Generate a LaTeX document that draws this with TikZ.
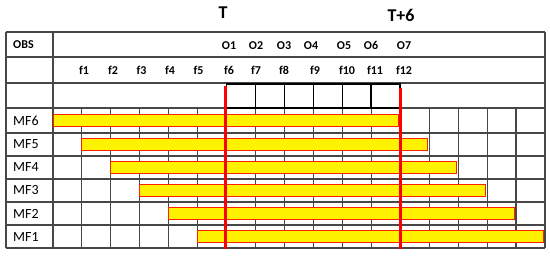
\documentclass[tikz,border=0pt]{standalone}
\usepackage{fontspec}
\setmainfont{Carlito}
\begin{document}
\begin{tikzpicture}[x=1pt,y=-1pt,
  gridline/.style={draw=black!72,line width=1.1pt},
  barbox/.style={fill=yellow,draw=red!75!orange,line width=1pt},
  redline/.style={draw=red,line width=2.8pt},
  blackcell/.style={draw=black,line width=1.7pt},
  hdr/.style={font=\bfseries\fontsize{12}{14}\selectfont,inner sep=0pt},
  big/.style={font=\bfseries\fontsize{18}{20}\selectfont,inner sep=0pt},
  rowlab/.style={font=\fontsize{14}{16}\selectfont,inner sep=0pt,anchor=west}]
\useasboundingbox (0,0) rectangle (550,255);
\fill[white] (0,0) rectangle (550,255);
\def\cw{28.94}
\def\xz{53}
% horizontal lines
\foreach \y in {32,57,83,108,133,156,179,202,225,248}
  \draw[gridline] (6,\y) -- (545,\y);
% outer verticals
\draw[gridline] (6,32) -- (6,248);
\draw[gridline] (53,32) -- (53,248);
\draw[gridline] (545,32) -- (545,248);
% inner verticals in MF rows
\foreach \k in {1,...,16}{
  \pgfmathsetmacro\xx{\xz+\cw*\k}
  \draw[gridline] (\xx,108) -- (\xx,248);
}
% black cells row 3
\foreach \k in {6,...,11}{
  \pgfmathsetmacro\xa{\xz+\cw*\k}
  \pgfmathsetmacro\xb{\xz+\cw*(\k+1)}
  \draw[blackcell] (\xa,84) rectangle (\xb,108);
}
% bars
\foreach \i/\yc/\lab in {0/120.5/MF6,1/144.5/MF5,2/167.5/MF4,3/190.5/MF3,4/213.5/MF2,5/236.5/MF1}{
  \pgfmathsetmacro\xa{\xz+\cw*\i}
  \pgfmathsetmacro\xb{\xz+\cw*(\i+12)-1.5}
  \draw[barbox] (\xa,\yc-6) rectangle (\xb,\yc+6);
  \node[rowlab] (row\lab) at (13,\yc) {\lab};
}
% red lines
\pgfmathsetmacro\ra{\xz+\cw*6-1.5}
\pgfmathsetmacro\rb{\xz+\cw*12}
\coordinate (ra1) at (\ra,86);
\coordinate (ra2) at (\ra,249);
\coordinate (rb1) at (\rb,88);
\coordinate (rb2) at (\rb,249);
\draw[redline] (ra1) -- (ra2);
\draw[redline] (rb1) -- (rb2);
% header texts
\node[hdr,anchor=west] (obs) at (13,45) {OBS};
\foreach \k/\xx in {1/84,2/113,3/141.5,4/170,5/198.5,6/229,7/256,8/284,9/315,10/347,11/375,12/404}
  \node[hdr] (f\k) at (\xx,70) {f\k};
\foreach \k/\xx in {1/229,2/256,3/284,4/311,5/344,6/371,7/404}
  \node[hdr] (o\k) at (\xx,45.5) {O\k};
\node[big] (tlab) at (223,13) {T};
\node[big] (t6lab) at (401,15) {T+6};
\end{tikzpicture}
\end{document}
